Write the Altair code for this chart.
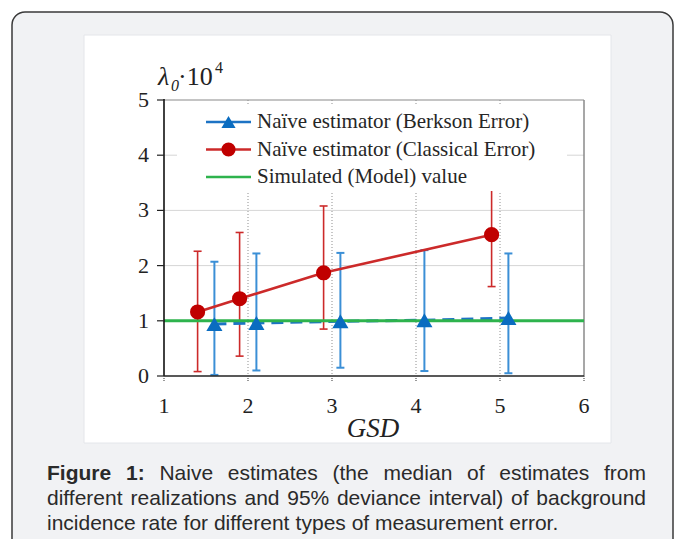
import altair as alt
import pandas as pd

# ---------------- data ----------------
gsd_classical = [1.4, 1.9, 2.9, 4.9]
lam_classical = [1.16, 1.40, 1.87, 2.56]
lo_classical = [0.08, 0.36, 0.85, 1.62]
hi_classical = [2.26, 2.60, 3.08, 3.50]

gsd_berkson = [1.6, 2.1, 3.1, 4.1, 5.1]
lam_berkson = [0.94, 0.96, 0.99, 1.01, 1.05]
lo_berkson = [0.02, 0.10, 0.15, 0.09, 0.05]
hi_berkson = [2.07, 2.22, 2.23, 2.28, 2.22]

sim_gsd = [1, 6]
sim_lam = [1.0, 1.0]

x_ticks = [1, 2, 3, 4, 5, 6]
y_ticks = [0, 1, 2, 3, 4, 5]
x_grid = [2, 3, 4, 5]
y_grid = [1, 2, 3, 4]

legend_labels = ["Naïve estimator (Berkson Error)",
                 "Naïve estimator (Classical Error)",
                 "Simulated (Model) value"]
x_title = "GSD"

caption_lines = [
    [("Figure", True), ("1:", True), ("Naive", False), ("estimates", False), ("(the", False),
     ("median", False), ("of", False), ("estimates", False), ("from", False)],
    [(w, False) for w in "different realizations and 95% deviance interval) of background".split()],
    [(w, False) for w in "incidence rate for different types of measurement error.".split()],
]

# ---------------- styling ----------------
W, H = 420, 276
SERIF = "Liberation Serif"
SANS = "Liberation Sans"
BLUE = "#0a6cc0"
BLUE_EB = "#3b8fd6"
RED = "#c00000"
RED_EB = "#cc2a2a"
GREEN = "#2eb34d"

xs = alt.Scale(domain=[1, 6], nice=False, zero=False)
ys = alt.Scale(domain=[0, 5], nice=False, zero=False)

one = pd.DataFrame({"a": [0]})

# ---------------- caption layout (Arial / Liberation Sans metrics) ----------------
AW = dict(a=556, b=556, c=500, d=556, e=556, f=278, g=556, h=556, i=222, j=222, k=500, l=222,
          m=833, n=556, o=556, p=556, q=556, r=333, s=500, t=278, u=556, v=500, w=722, x=500,
          y=500, z=500, N=722, F=611)
AW.update({str(d): 556 for d in range(10)})
AW.update({"%": 889, "(": 333, ")": 333, ":": 278, ".": 278, " ": 278})
AWB = dict(F=611, i=278, g=611, u=611, r=389, e=556)
AWB.update({"1": 556, ":": 333, " ": 278})
FS = 21


def wlen(word, bold):
    t = AWB if bold else AW
    return sum(t[c] for c in word) / 1000 * FS


cap_left, cap_right = -117, 482
cap_base = [380, 405, 430]
rows = []
for li, line in enumerate(caption_lines):
    widths = [wlen(w, b) for w, b in line]
    if li < 2:
        gap = (cap_right - cap_left - sum(widths)) / (len(line) - 1)
    else:
        gap = AW[" "] / 1000 * FS
    x = cap_left
    for (w, b), wd in zip(line, widths):
        rows.append({"word": w, "px": x, "py": cap_base[li], "bold": b})
        x += wd + gap
cap_df = pd.DataFrame(rows)

# ---------------- background ----------------
box = alt.Chart(one).mark_rect(fill="#f1f2f4", stroke="#3a3a3a", strokeWidth=1.5, cornerRadius=13).encode(
    x=alt.value(-152), x2=alt.value(509), y=alt.value(-88), y2=alt.value(480))
panel = alt.Chart(one).mark_rect(fill="white", stroke="#e4e6ea", strokeWidth=1).encode(
    x=alt.value(-80), x2=alt.value(447), y=alt.value(-65), y2=alt.value(343))

# ---------------- grid and frame ----------------
hgrid = alt.Chart(pd.DataFrame({"v": y_grid})).mark_rule(color="#d6d6d6", strokeWidth=1).encode(
    y=alt.Y("v:Q", scale=ys, axis=None), x=alt.value(0), x2=alt.value(W))
vgrid = alt.Chart(pd.DataFrame({"v": x_grid})).mark_rule(color="#8f8f8f", strokeWidth=1, strokeDash=[1, 2]).encode(
    x=alt.X("v:Q", scale=xs, axis=None), y=alt.value(0), y2=alt.value(H))
top_border = alt.Chart(pd.DataFrame({"v": [5]})).mark_rule(color="#8a8a8a", strokeWidth=1.2).encode(
    y=alt.Y("v:Q", scale=ys, axis=None), x=alt.value(0), x2=alt.value(W))
right_border = alt.Chart(pd.DataFrame({"v": [6]})).mark_rule(color="#8a8a8a", strokeWidth=1.5).encode(
    x=alt.X("v:Q", scale=xs, axis=None), y=alt.value(0), y2=alt.value(H))

# ---------------- data marks ----------------
cl = pd.DataFrame({"gsd": gsd_classical, "lam": lam_classical, "lo": lo_classical, "hi": hi_classical})
bk = pd.DataFrame({"gsd": gsd_berkson, "lam": lam_berkson, "lo": lo_berkson, "hi": hi_berkson})
sim = pd.DataFrame({"gsd": sim_gsd, "lam": sim_lam})


def errbars(df, color, sw):
    bar = alt.Chart(df).mark_rule(color=color, strokeWidth=sw).encode(
        x=alt.X("gsd:Q", scale=xs, axis=None), y=alt.Y("lo:Q", scale=ys, axis=None), y2="hi:Q")
    cap_lo = alt.Chart(df).mark_rule(color=color, strokeWidth=sw, xOffset=-4, x2Offset=4).encode(
        x=alt.X("gsd:Q", scale=xs, axis=None), x2="gsd:Q", y=alt.Y("lo:Q", scale=ys, axis=None))
    cap_hi = alt.Chart(df).mark_rule(color=color, strokeWidth=sw, xOffset=-4, x2Offset=4).encode(
        x=alt.X("gsd:Q", scale=xs, axis=None), x2="gsd:Q", y=alt.Y("hi:Q", scale=ys, axis=None))
    return [bar, cap_lo, cap_hi]


eb_cl = errbars(cl, RED_EB, 1.6)
eb_bk = errbars(bk, BLUE_EB, 2)

bk_line = alt.Chart(bk).mark_line(color="#1d73c4", strokeWidth=3, strokeDash=[12, 7]).encode(
    x=alt.X("gsd:Q", scale=xs, axis=None), y=alt.Y("lam:Q", scale=ys, axis=None))
sim_line = alt.Chart(sim).mark_line(color=GREEN, strokeWidth=3).encode(
    x=alt.X("gsd:Q", scale=xs, axis=None), y=alt.Y("lam:Q", scale=ys, axis=None))
cl_line = alt.Chart(cl).mark_line(color=RED_EB, strokeWidth=2.6).encode(
    x=alt.X("gsd:Q", scale=xs, axis=None), y=alt.Y("lam:Q", scale=ys, axis=None))
cl_pts = alt.Chart(cl).mark_point(shape="circle", filled=True, color=RED, size=230, opacity=1).encode(
    x=alt.X("gsd:Q", scale=xs, axis=None), y=alt.Y("lam:Q", scale=ys, axis=None))
bk_pts = alt.Chart(bk).mark_point(shape="triangle-up", filled=True, color=BLUE, size=260, opacity=1).encode(
    x=alt.X("gsd:Q", scale=xs, axis=None), y=alt.Y("lam:Q", scale=ys, axis=None))

# ---------------- legend ----------------
leg_box = alt.Chart(one).mark_rect(fill="white").encode(
    x=alt.value(13), x2=alt.value(403), y=alt.value(6), y2=alt.value(91))
leg_rows = [22, 49.5, 77]
leg_colors = ["#1d73c4", RED_EB, GREEN]
leg_items = []
for yy, col in zip(leg_rows, leg_colors):
    leg_items.append(alt.Chart(one).mark_rule(color=col, strokeWidth=2.6).encode(
        x=alt.value(42), x2=alt.value(87), y=alt.value(yy)))
leg_items.append(alt.Chart(one).mark_point(shape="triangle-up", filled=True, color=BLUE, size=200, opacity=1).encode(
    x=alt.value(64.5), y=alt.value(leg_rows[0])))
leg_items.append(alt.Chart(one).mark_point(shape="circle", filled=True, color=RED, size=200, opacity=1).encode(
    x=alt.value(64.5), y=alt.value(leg_rows[1])))
leg_text = alt.Chart(pd.DataFrame({"t": legend_labels, "py": leg_rows})).mark_text(
    font=SERIF, fontSize=21, color="#262626", align="left", baseline="middle").encode(
    text="t:N", x=alt.value(93), y=alt.Y("py:Q", scale=None))

# ---------------- axes ----------------
y_dom = alt.Chart(one).mark_rule(color="#111111", strokeWidth=1.6).encode(
    x=alt.value(0), y=alt.value(-1), y2=alt.value(H))
x_dom = alt.Chart(one).mark_rule(color="#222222", strokeWidth=1.6).encode(
    y=alt.value(H), x=alt.value(0), x2=alt.value(W))
y_tk = alt.Chart(pd.DataFrame({"v": y_ticks})).mark_rule(color="#222222", strokeWidth=1.2).encode(
    y=alt.Y("v:Q", scale=ys, axis=None), x=alt.value(-7), x2=alt.value(0))
x_tk = alt.Chart(pd.DataFrame({"v": x_ticks})).mark_rule(color="#555555", strokeWidth=1.2, strokeDash=[1, 1]).encode(
    x=alt.X("v:Q", scale=xs, axis=None), y=alt.value(H), y2=alt.value(H + 6))
y_lab = alt.Chart(pd.DataFrame({"v": y_ticks})).mark_text(
    font=SERIF, fontSize=22, color="#222222", align="right", baseline="middle").encode(
    y=alt.Y("v:Q", scale=ys, axis=None), x=alt.value(-15), text="v:N")
x_lab = alt.Chart(pd.DataFrame({"v": x_ticks})).mark_text(
    font=SERIF, fontSize=22, color="#222222", align="center", baseline="middle").encode(
    x=alt.X("v:Q", scale=xs, axis=None), y=alt.value(306), text="v:N")
x_ttl = alt.Chart(pd.DataFrame({"t": [x_title]})).mark_text(
    font=SERIF, fontSize=27, fontStyle="italic", color="#222222", align="center", baseline="alphabetic").encode(
    x=alt.value(209), y=alt.value(337), text="t:N")

y_ttl = [
    alt.Chart(pd.DataFrame({"t": ["λ"]})).mark_text(font=SERIF, fontSize=26, fontStyle="italic", color="#222222",
                                                   align="left", baseline="alphabetic").encode(
        x=alt.value(-6), y=alt.value(-15), text="t:N"),
    alt.Chart(pd.DataFrame({"t": ["0"]})).mark_text(font=SERIF, fontSize=16, fontStyle="italic", color="#222222",
                                                   align="left", baseline="alphabetic").encode(
        x=alt.value(7), y=alt.value(-9), text="t:N"),
    alt.Chart(pd.DataFrame({"t": ["·10"]})).mark_text(font=SERIF, fontSize=26, color="#222222",
                                                     align="left", baseline="alphabetic").encode(
        x=alt.value(14), y=alt.value(-15), text="t:N"),
    alt.Chart(pd.DataFrame({"t": ["4"]})).mark_text(font=SERIF, fontSize=16, color="#222222",
                                                   align="left", baseline="alphabetic").encode(
        x=alt.value(51), y=alt.value(-27), text="t:N"),
]

# ---------------- caption ----------------
cap_bold = alt.Chart(cap_df[cap_df["bold"]]).mark_text(
    font=SANS, fontSize=FS, fontWeight="bold", color="#2a2a2a", align="left", baseline="alphabetic").encode(
    x=alt.X("px:Q", scale=None), y=alt.Y("py:Q", scale=None), text="word:N")
cap_norm = alt.Chart(cap_df[~cap_df["bold"]]).mark_text(
    font=SANS, fontSize=FS, color="#2a2a2a", align="left", baseline="alphabetic").encode(
    x=alt.X("px:Q", scale=None), y=alt.Y("py:Q", scale=None), text="word:N")

layers = ([box, panel, hgrid, vgrid, top_border, right_border] + eb_cl + eb_bk +
          [bk_line, sim_line, cl_line, cl_pts, bk_pts, leg_box] + leg_items + [leg_text] +
          [y_dom, x_dom, y_tk, x_tk, y_lab, x_lab, x_ttl] + y_ttl + [cap_bold, cap_norm])

chart = alt.layer(*layers).properties(
    width=W, height=H,
    autosize=alt.AutoSizeParams(type="none"),
    padding={"left": 156, "top": 92, "right": 91, "bottom": 163},
    background="white",
).configure_view(stroke=None)

chart.save("out.html", embed_options={"renderer": "svg", "actions": False})
